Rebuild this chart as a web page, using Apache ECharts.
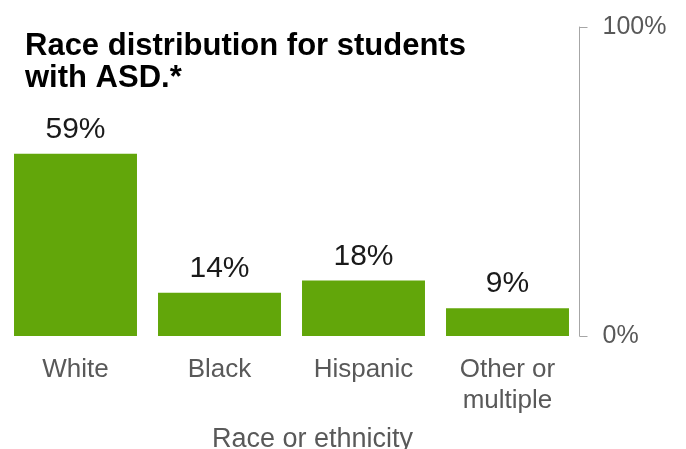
<!DOCTYPE html>
<html>
<head>
<meta charset="utf-8">
<script src="https://cdn.jsdelivr.net/npm/echarts@6/dist/echarts.min.js"></script>
<style>
  html, body { margin: 0; padding: 0; background: #fff; }
  #chart { width: 686px; height: 449px; }
</style>
</head>
<body>
<div id="chart"></div>
<script>
// Share of students with ASD by race or ethnicity (percent)
const categories = ['White', 'Black', 'Hispanic', 'Other or\nmultiple'];
const shares = [59, 14, 18, 9];
const yTicks = [0, 100];

const FONT = '"Liberation Sans", Arial, sans-serif';
const chart = echarts.init(document.getElementById('chart'), null, { renderer: 'canvas' });

chart.setOption({
  animation: false,
  backgroundColor: '#ffffff',
  title: {
    text: 'Race distribution for students\nwith ASD.*',
    left: 20,
    top: 25,
    textStyle: {
      fontFamily: FONT,
      fontWeight: 'bold',
      fontSize: 31,
      lineHeight: 32,
      color: '#000000'
    }
  },
  grid: {
    left: 3.5,
    right: 106.5,
    top: 27,
    bottom: 113,
    containLabel: false,
    outerBoundsMode: 'none'
  },
  xAxis: {
    type: 'category',
    data: categories,
    axisLine: { show: false },
    axisTick: { show: false },
    axisLabel: {
      margin: 18,
      fontFamily: FONT,
      fontSize: 26,
      lineHeight: 31,
      color: '#595959',
      interval: 0
    },
    name: 'Race or ethnicity',
    nameLocation: 'middle',
    nameGap: 90,
    nameTextStyle: {
      fontFamily: FONT,
      fontSize: 27,
      color: '#595959',
      padding: [0, 0, 0, 42]
    }
  },
  yAxis: {
    type: 'value',
    position: 'right',
    min: yTicks[0],
    max: yTicks[yTicks.length - 1],
    interval: yTicks[1] - yTicks[0],
    splitLine: { show: false },
    axisLine: { show: true, lineStyle: { color: '#a6a6a6', width: 1 } },
    axisTick: { show: true, inside: false, length: 8, lineStyle: { color: '#a6a6a6' } },
    axisLabel: {
      margin: 23,
      fontFamily: FONT,
      fontSize: 25,
      color: '#595959',
      formatter: '{value}%'
    }
  },
  series: [{
    type: 'bar',
    data: shares,
    barCategoryGap: '14.6%',
    itemStyle: { color: '#62a60a' },
    label: {
      show: true,
      position: 'top',
      distance: 9,
      formatter: '{c}%',
      fontFamily: FONT,
      fontSize: 30,
      color: '#1a1a1a'
    }
  }]
});
</script>
</body>
</html>
